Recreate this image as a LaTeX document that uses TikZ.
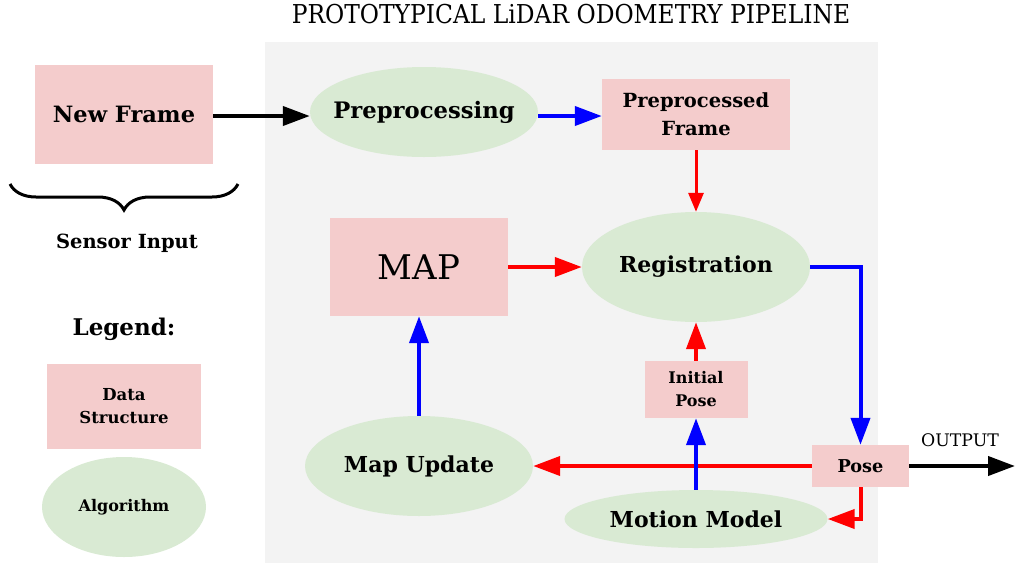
\documentclass[tikz,border=0pt]{standalone}
\usepackage{fontspec}
\setmainfont{DejaVu Serif}
\newfontfamily\titlefont{DejaVu Serif Condensed}
\usetikzlibrary{arrows.meta,shapes.geometric,decorations.pathreplacing,calc}

\definecolor{datapink}{HTML}{F4CCCC}
\definecolor{algogreen}{HTML}{D9EAD3}
\definecolor{panelgray}{HTML}{F3F3F3}
\definecolor{flowblue}{HTML}{0000FF}
\definecolor{flowred}{HTML}{FF0000}

\tikzset{
  databox/.style={rectangle, fill=datapink, inner sep=0pt, align=center},
  algo/.style={ellipse, fill=algogreen, inner sep=0pt, align=center},
  flow/.style={line width=4pt, -{Triangle[length=27pt,width=19pt]}},
  smallflow/.style={line width=3pt, -{Triangle[length=19pt,width=15pt]}},
  lbl/.style={inner sep=0pt, align=center},
  stagefont/.style={font=\bfseries\fontsize{22}{26}\selectfont},
}

\begin{document}
\begin{tikzpicture}[x=1pt, y=-1pt]
  \useasboundingbox (0,0) rectangle (1015,566);

  % pipeline panel
  \fill[panelgray] (265,42) rectangle (878,563);
  \node[lbl, font=\titlefont\fontsize{26}{30}\selectfont] (title) at (571,14)
    {PROTOTYPICAL LiDAR ODOMETRY PIPELINE};

  % sensor input
  \node[databox, minimum width=178pt, minimum height=99pt, font=\bfseries\fontsize{22.5}{26}\selectfont]
    (newframe) at (124,114.5) {New Frame};
  \coordinate (braceL) at (10,184);
  \coordinate (braceR) at (238,184);
  \draw[line width=3pt, decorate, decoration={brace, amplitude=26pt, mirror}] (braceL) -- (braceR);
  \node[lbl, font=\bfseries\fontsize{19.5}{22}\selectfont] (sensor) at (127,243) {Sensor Input};

  % legend
  \node[lbl, font=\bfseries\fontsize{23}{26}\selectfont] (legend) at (124,329) {Legend:};
  \node[databox, minimum width=154pt, minimum height=85pt, font=\bfseries\fontsize{16.5}{23}\selectfont]
    (legdata) at (124,406.5) {Data\\Structure};
  \node[algo, minimum width=164pt, minimum height=100pt, font=\bfseries\fontsize{16}{18}\selectfont]
    (legalgo) at (124,507) {Algorithm};

  % pipeline stages (zero-width label box keeps the ellipse at its set size)
  \node[algo, minimum width=228pt, minimum height=90pt, font=\bfseries\fontsize{22.7}{26}\selectfont]
    (prep) at (424,112) {\makebox[0pt]{Preprocessing}};
  \node[databox, minimum width=188pt, minimum height=71pt, font=\bfseries\fontsize{19.5}{28}\selectfont]
    (pframe) at (696,114.5) {Preprocessed\\Frame};
  \node[algo, minimum width=228pt, minimum height=110pt, stagefont] (reg) at (696,267) {Registration};
  \node[databox, minimum width=178pt, minimum height=98pt, font=\fontsize{34}{40}\selectfont]
    (map) at (419,267) {MAP};
  \node[databox, minimum width=97pt, minimum height=42pt, font=\bfseries\fontsize{17.7}{20}\selectfont]
    (pose) at (860.5,466) {Pose};
  \node[databox, minimum width=103pt, minimum height=57pt, font=\bfseries\fontsize{16}{23}\selectfont]
    (init) at (696,389.5) {Initial\\Pose};
  \node[algo, minimum width=228pt, minimum height=100pt, stagefont] (mapup) at (419,466) {Map Update};
  \node[algo, minimum width=263pt, minimum height=58pt, stagefont] (motion) at (696,519) {Motion Model};
  \node[lbl, font=\fontsize{17.3}{20}\selectfont] (output) at (960,440) {OUTPUT};
  \coordinate (outend) at (1015,466);

  % connectors
  \draw[flow, black] (newframe.east |- 0,116) -- (prep.west |- 0,116);
  \draw[flow, flowblue] (prep.east |- 0,116) -- (pframe.west |- 0,116);
  \draw[smallflow, flowred] (pframe.south) -- (reg.north);
  \draw[flow, flowred] (map.east) -- (reg.west);
  \draw[flow, flowblue] (reg.east) -| (pose.north);
  \draw[flow, black] (pose.east) -- (outend);
  \draw[flow, flowred] (pose.west) -- (mapup.east |- pose.west);
  \draw[flow, flowblue] (mapup.north) -- (map.south);
  \draw[flow, flowblue] (motion.north) -- (init.south);
  \draw[flow, flowred] (init.north) -- (reg.south);
  \draw[flow, flowred] (pose.south) |- (motion.east);
\end{tikzpicture}
\end{document}
